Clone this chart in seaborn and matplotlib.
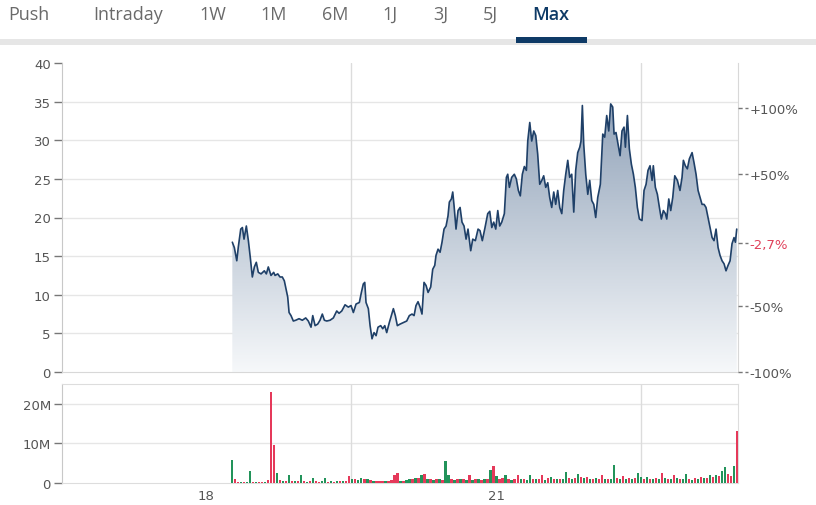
import numpy as np
import matplotlib
matplotlib.use("Agg")
import matplotlib.pyplot as plt
import matplotlib.transforms as mtransforms
from matplotlib.colors import LinearSegmentedColormap
from matplotlib.patches import Polygon, Rectangle
import seaborn as sns

# Kursverlauf (Zeit in Dezimaljahren, Kurs in EUR)
price_t = [
    2018.272, 2018.293, 2018.318, 2018.334, 2018.359, 2018.376, 2018.393, 2018.417, 2018.438, 2018.458,
    2018.479, 2018.500, 2018.520, 2018.541, 2018.569, 2018.603, 2018.624, 2018.644, 2018.672, 2018.700,
    2018.714, 2018.742, 2018.765, 2018.789, 2018.810, 2018.828, 2018.845, 2018.859, 2018.879, 2018.903,
    2018.928, 2018.962, 2018.996, 2019.031, 2019.058, 2019.086, 2019.104, 2019.128, 2019.155, 2019.179,
    2019.203, 2019.224, 2019.249, 2019.283, 2019.317, 2019.352, 2019.376, 2019.404, 2019.438, 2019.472,
    2019.500, 2019.524, 2019.552, 2019.586, 2019.607, 2019.627, 2019.642, 2019.655, 2019.679, 2019.697,
    2019.717, 2019.738, 2019.759, 2019.779, 2019.807, 2019.828, 2019.849, 2019.869, 2019.896, 2019.917,
    2019.938, 2019.958, 2019.979, 2020.007, 2020.041, 2020.076, 2020.103, 2020.131, 2020.152, 2020.172,
    2020.193, 2020.214, 2020.234, 2020.255, 2020.276, 2020.297, 2020.324, 2020.345, 2020.366, 2020.379,
    2020.400, 2020.421, 2020.441, 2020.462, 2020.483, 2020.503, 2020.517, 2020.538, 2020.552, 2020.566,
    2020.586, 2020.607, 2020.628, 2020.648, 2020.669, 2020.690, 2020.710, 2020.738, 2020.759, 2020.786,
    2020.814, 2020.834, 2020.858, 2020.886, 2020.914, 2020.935, 2020.956, 2020.976, 2020.997, 2021.018,
    2021.038, 2021.059, 2021.086, 2021.107, 2021.121, 2021.138, 2021.162, 2021.189, 2021.210, 2021.231,
    2021.251, 2021.272, 2021.293, 2021.314, 2021.328, 2021.349, 2021.369, 2021.390, 2021.411, 2021.431,
    2021.452, 2021.473, 2021.493, 2021.514, 2021.535, 2021.555, 2021.576, 2021.597, 2021.617, 2021.638,
    2021.659, 2021.680, 2021.700, 2021.721, 2021.742, 2021.762, 2021.783, 2021.804, 2021.824, 2021.845,
    2021.866, 2021.879, 2021.893, 2021.907, 2021.928, 2021.949, 2021.969, 2021.990, 2022.011, 2022.031,
    2022.052, 2022.079, 2022.104, 2022.124, 2022.145, 2022.166, 2022.186, 2022.207, 2022.221, 2022.241,
    2022.262, 2022.283, 2022.303, 2022.324, 2022.338, 2022.359, 2022.379, 2022.400, 2022.421, 2022.441,
    2022.462, 2022.483, 2022.510, 2022.531, 2022.552, 2022.572, 2022.593, 2022.614, 2022.627, 2022.648,
    2022.669, 2022.690, 2022.710, 2022.731, 2022.752, 2022.766, 2022.787, 2022.807, 2022.828, 2022.849,
    2022.876, 2022.903, 2022.924, 2022.938, 2022.958, 2022.979, 2023.000, 2023.028, 2023.048, 2023.069,
    2023.090, 2023.110, 2023.131, 2023.152, 2023.172, 2023.193, 2023.214, 2023.235, 2023.255, 2023.276,
    2023.297, 2023.317, 2023.338, 2023.359, 2023.379, 2023.400, 2023.421, 2023.441, 2023.462, 2023.476,
    2023.490,
]
price = [
    16.8, 16.1, 14.4, 16.2, 18.5, 18.7, 17.2, 18.9, 17.0, 14.8,
    12.3, 13.6, 14.2, 12.9, 12.7, 13.1, 12.7, 13.6, 12.5, 12.9,
    12.5, 12.7, 12.3, 12.3, 11.8, 10.7, 9.7, 7.7, 7.3, 6.6,
    6.7, 6.9, 6.7, 7.0, 6.6, 5.8, 7.3, 6.0, 6.2, 6.7,
    7.5, 6.7, 6.6, 6.7, 7.0, 7.9, 7.6, 7.9, 8.7, 8.4,
    8.6, 7.7, 8.8, 9.0, 10.3, 11.4, 11.6, 9.0, 8.2, 6.0,
    4.3, 5.1, 4.7, 5.8, 6.0, 5.6, 6.0, 5.1, 6.4, 7.3,
    8.2, 7.3, 6.0, 6.2, 6.4, 6.6, 7.3, 7.5, 7.3, 8.6,
    9.1, 8.4, 7.5, 11.6, 11.2, 10.3, 11.0, 13.3, 13.8, 15.1,
    15.9, 15.5, 16.8, 18.5, 18.9, 20.2, 22.0, 22.4, 23.3, 21.5,
    18.5, 20.9, 21.3, 19.4, 18.9, 17.2, 18.5, 15.7, 17.2, 17.0,
    18.5, 18.3, 17.0, 18.7, 20.5, 20.8, 18.7, 19.4, 18.5, 20.9,
    18.9, 19.4, 20.5, 25.2, 25.6, 23.9, 25.2, 25.6, 25.0, 23.5,
    22.8, 25.6, 26.6, 26.1, 29.9, 32.3, 29.9, 31.2, 30.6, 28.2,
    24.3, 24.8, 25.4, 23.9, 24.5, 22.6, 21.3, 23.3, 21.7, 23.5,
    21.3, 20.5, 23.5, 25.6, 27.4, 25.2, 25.6, 20.7, 26.1, 28.4,
    29.1, 29.9, 34.5, 29.5, 25.6, 23.0, 24.8, 22.2, 21.7, 20.0,
    22.6, 24.3, 30.8, 30.4, 33.2, 31.2, 34.7, 34.3, 30.8, 31.0,
    29.5, 28.0, 31.2, 31.7, 29.1, 33.2, 28.9, 26.9, 25.6, 23.9,
    21.3, 19.8, 19.6, 23.5, 24.3, 26.1, 26.7, 24.8, 26.7, 23.9,
    23.0, 21.3, 19.8, 20.9, 20.5, 19.8, 22.4, 20.9, 22.6, 25.4,
    24.8, 23.5, 25.2, 27.4, 26.7, 26.3, 27.6, 28.4, 27.1, 25.6,
    23.5, 22.6, 21.7, 21.7, 21.3, 20.0, 18.7, 17.4, 17.0, 18.5,
    16.1, 15.1, 14.4, 14.0, 13.1, 13.8, 14.4, 16.6, 17.4, 16.8,
    18.5,
]

# Umsatz in Mio. Stueck, g = steigender Tag, r = fallender Tag
vol_m = [
    5.8, 1.0, 0.3, 0.2, 0.3, 0.2, 3.0, 0.3, 0.2, 0.3,
    0.3, 0.2, 0.8, 23.0, 9.6, 2.4, 0.7, 0.5, 0.6, 1.9,
    0.5, 0.4, 0.6, 1.9, 0.4, 0.3, 0.5, 1.3, 0.4, 0.3,
    0.4, 1.3, 0.3, 0.4, 0.3, 0.5, 0.6, 0.4, 0.5, 1.7,
    1.0, 1.1, 0.8, 1.2, 0.9, 1.0, 0.7, 0.6, 0.4, 0.5,
    0.6, 0.4, 0.5, 0.7, 2.0, 2.5, 0.6, 0.5, 0.7, 1.1,
    1.0, 1.3, 1.2, 1.9, 2.3, 0.9, 1.1, 0.8, 1.0, 0.9,
    0.8, 5.6, 1.9, 0.9, 0.8, 1.0, 0.9, 1.1, 0.8, 1.9,
    0.8, 1.0, 0.9, 0.7, 1.0, 0.9, 3.4, 4.2, 1.7, 1.0,
    1.2, 1.9, 1.0, 0.8, 1.1, 1.9, 0.9, 1.0, 0.8, 2.0,
    1.1, 0.9, 1.0, 1.9, 0.8, 1.2, 1.5, 1.0, 0.9, 1.1,
    1.0, 2.7, 1.2, 0.9, 1.3, 2.3, 1.4, 1.2, 1.5, 1.1,
    1.0, 1.2, 0.9, 1.9, 1.1, 1.0, 0.9, 4.6, 1.2, 1.0,
    1.7, 1.1, 1.3, 0.9, 1.2, 2.5, 1.4, 1.0, 1.4, 1.1,
    1.0, 1.2, 0.9, 2.5, 1.3, 1.0, 1.1, 1.9, 1.2, 0.9,
    1.0, 2.3, 1.1, 0.8, 1.2, 1.0, 1.5, 1.2, 1.3, 2.1,
    1.6, 2.0, 1.8, 3.1, 4.0, 2.3, 1.8, 4.2, 13.2,
]
vol_up = (
    "grrgrggrgr" "rgrrrgrgrg" "rgrgrgrgrr" "ggrgrgrgrr" "grggrgrgrr"
    "rgrrrrgrgg" "rgrgrgrgrg" "rggrgrgrgr" "grgrgrgrgr" "rgrgrrgrgg"
    "rgrrgrgrgr" "ggrgrgrgrg" "rgrrgrggrg" "rgrgrggrgr" "grgrgrgrgr"
    "ggrgrgrgrg" "rgrggrrgr"
)
vol_first, vol_last = 2018.272, 2023.490

ref_price = 17.1
last_change = -2.7
pct_ticks = [-100, -50, 50, 100]
price_ticks = [0, 5, 10, 15, 20, 25, 30, 35, 40]
vol_ticks = [0, 10, 20]
year_ticks = [2018, 2021]
year_labels = ["18", "21"]
year_grid = [2019.5, 2022.5]
tabs = ["Push", "Intraday", "1W", "1M", "6M", "1J", "3J", "5J", "Max"]
tab_x = [29, 128, 213, 274, 335, 390, 441, 490, 551]

LINE = "#1f4068"
GRID = "#e6e6e6"
TXT = "#555555"
GREEN = "#22935a"
RED = "#e5395a"

sns.set_style("white")
plt.rcParams["font.family"] = ["DejaVu Sans"]

W, H = 816, 506
fig = plt.figure(figsize=(W / 100, H / 100), dpi=100)

x0, x1 = 2016.510, 2023.503
L, R = 62, 738
ax = fig.add_axes([L / W, 1 - 373 / H, (R - L) / W, (373 - 64) / H])
axv = fig.add_axes([L / W, 1 - 484 / H, (R - L) / W, (484 - 385) / H])

# Tabs oben
for name, tx in zip(tabs, tab_x):
    active = name == "Max"
    fig.text(tx / W, 1 - 20 / H, name, ha="center", va="baseline",
             fontsize=13, family=["Open Sans", "DejaVu Sans"],
             color="#0e3a66" if active else "#6a6a6a",
             fontweight="semibold" if active else "normal")
fig.add_artist(Rectangle((0, 1 - 46 / H), 1, 6 / H, transform=fig.transFigure,
                         color="#e6e6e6", lw=0))
fig.add_artist(Rectangle((516 / W, 1 - 44 / H), 71 / W, 6 / H, transform=fig.transFigure,
                         color="#0e3a66", lw=0))

# Kurs mit Verlaufsfuellung
grad = np.linspace(0, 1, 256).reshape(-1, 1)
cmap = LinearSegmentedColormap.from_list("fill", ["#f6f8fa", "#8397b0"])
im = ax.imshow(grad, extent=[x0, x1, 0, 40], origin="lower", aspect="auto",
               cmap=cmap, zorder=1)
verts = np.column_stack([np.r_[price_t[0], price_t, price_t[-1]],
                         np.r_[0, price, 0]])
area = Polygon(verts, closed=True, facecolor="none", edgecolor="none")
ax.add_patch(area)
im.set_clip_path(area)
sns.lineplot(x=price_t, y=price, ax=ax, color=LINE, lw=1.2, estimator=None,
             sort=False, zorder=3)

ax.set_xlim(x0, x1)
ax.set_ylim(0, 40)
ax.set_yticks(price_ticks)
ax.set_yticklabels([str(v) for v in price_ticks])
ax.set_xticks([])
for v in price_ticks[1:-1]:
    ax.axhline(v, color=GRID, lw=1, zorder=0)
for g in year_grid:
    ax.axvline(g, color="#dcdcdc", lw=1, zorder=0)
ax.tick_params(axis="y", left=True, length=6, width=1, color="#777777",
               labelcolor=TXT, labelsize=9.5, pad=2)
ax.spines["top"].set_visible(False)
ax.spines["left"].set_color("#c8c8c8")
ax.spines["right"].set_color("#d8d8d8")
ax.spines["bottom"].set_color("#d8d8d8")

# rechte Achse: Veraenderung in Prozent
ax2 = ax.twinx()
ax2.set_ylim(0, 40)
pct_levels = [ref_price * (1 + p / 100) for p in pct_ticks] + [ref_price * (1 + last_change / 100)]
pct_labels = [f"{p:+d}%" for p in pct_ticks] + [f"{last_change:+.1f}%".replace(".", ",")]
ax2.set_yticks(pct_levels)
ax2.set_yticklabels(pct_labels)
ax2.tick_params(axis="y", right=True, length=0, labelcolor=TXT, labelsize=9.5, pad=8.5)
ax2.get_yticklabels()[-1].set_color("#e0405a")
for s in ax2.spines.values():
    s.set_visible(False)
trans = mtransforms.blended_transform_factory(ax2.transAxes, ax2.transData)
for lev in pct_levels:
    ax2.plot([1.0, 1.0 + 10 / (R - L)], [lev, lev], transform=trans, color="#777777",
             lw=1, ls=(0, (3, 2)), clip_on=False)

# Umsatz
vol_t = np.linspace(vol_first, vol_last, len(vol_m))
colors = [GREEN if c == "g" else RED for c in vol_up]
axv.bar(vol_t, vol_m, width=0.022, color=colors, lw=0, zorder=3)
axv.set_xlim(x0, x1)
axv.set_ylim(0, 25)
axv.set_yticks(vol_ticks)
axv.set_yticklabels(["0", "10M", "20M"])
for v in vol_ticks[1:]:
    axv.axhline(v, color=GRID, lw=1, zorder=0)
for g in year_grid:
    axv.axvline(g, color="#dcdcdc", lw=1, zorder=0)
axv.set_xticks(year_ticks)
axv.set_xticklabels(year_labels)
axv.tick_params(axis="y", left=True, length=6, width=1, color="#777777",
                labelcolor=TXT, labelsize=9.5, pad=2)
axv.tick_params(axis="x", bottom=False, length=0, labelcolor=TXT, labelsize=9.5, pad=4)
for s in axv.spines.values():
    s.set_color("#dddddd")
axv.spines["left"].set_color("#c8c8c8")

fig.savefig("out.png", dpi=100)
